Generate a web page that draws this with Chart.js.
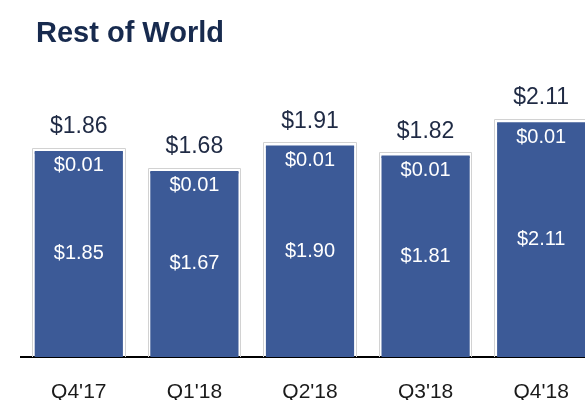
<!DOCTYPE html>
<html>
<head>
<meta charset="utf-8">
<script src="https://cdn.jsdelivr.net/npm/chart.js@4.4.1/dist/chart.umd.min.js"></script>
<style>
  html, body { margin:0; padding:0; background:#fff; overflow:hidden; width:585px; height:400px; }
  #title { position:absolute; left:36px; top:18px; font-family:"Liberation Sans", Arial, sans-serif; font-weight:bold; font-size:29px; line-height:29px; color:#172a4e; white-space:nowrap; }
  #wrap { position:absolute; left:0; top:0; width:599px; height:400px; }
</style>
</head>
<body>
<div id="wrap"><canvas id="c" width="599" height="400"></canvas></div>
<div id="title">Rest of World</div>
<script>
const categories = ["Q4'17", "Q1'18", "Q2'18", "Q3'18", "Q4'18"];
const baseValues = [1.85, 1.67, 1.90, 1.81, 2.11];
const topValues = [0.01, 0.01, 0.01, 0.01, 0.01];
const totals = [1.86, 1.68, 1.91, 1.82, 2.11];

const BAR = '#3c5a97';
const FONT = '"Liberation Sans", Arial, sans-serif';

const labelPlugin = {
  id: 'labels',
  beforeDatasetsDraw(chart) {
    const ctx = chart.ctx;
    const m0 = chart.getDatasetMeta(0), m1 = chart.getDatasetMeta(1);
    ctx.save();
    ctx.strokeStyle = '#d2d2d2';
    ctx.lineWidth = 1;
    m0.data.forEach((b, i) => {
      const t = m1.data[i];
      const x0 = Math.round(b.x - b.width / 2 - 3.5) + 0.5;
      const x1 = Math.round(b.x + b.width / 2 + 3.5) - 0.5;
      const y0 = Math.round(t.y - 4) + 0.5;
      const y1 = b.base;
      ctx.beginPath();
      ctx.moveTo(x0, y1); ctx.lineTo(x0, y0); ctx.lineTo(x1, y0); ctx.lineTo(x1, y1);
      ctx.stroke();
    });
    ctx.restore();
  },
  afterDatasetsDraw(chart) {
    const ctx = chart.ctx;
    const m0 = chart.getDatasetMeta(0), m1 = chart.getDatasetMeta(1);
    ctx.save();
    ctx.textAlign = 'center';
    ctx.textBaseline = 'middle';
    m0.data.forEach((b, i) => {
      const t = m1.data[i];
      ctx.fillStyle = '#ffffff';
      ctx.font = '20px ' + FONT;
      ctx.fillText('$' + baseValues[i].toFixed(2), b.x, (b.y + b.base) / 2 - 1);
      ctx.fillText('$' + topValues[i].toFixed(2), t.x, t.y + 14);
      ctx.fillStyle = '#1f2a44';
      ctx.font = '23px ' + FONT;
      ctx.fillText('$' + totals[i].toFixed(2), t.x, t.y - 25);
    });
    ctx.restore();
  }
};

new Chart(document.getElementById('c'), {
  type: 'bar',
  data: {
    labels: categories,
    datasets: [
      { data: baseValues, backgroundColor: BAR, borderWidth: 0, inflateAmount: 0.75, barPercentage: 0.75, categoryPercentage: 1 },
      { data: topValues, backgroundColor: BAR, borderWidth: 0, inflateAmount: 0.75, barPercentage: 0.75, categoryPercentage: 1 }
    ]
  },
  options: {
    responsive: false,
    animation: false,
    layout: { padding: { left: 21, right: 0, top: 26, bottom: 0 } },
    plugins: { legend: { display: false }, tooltip: { enabled: false } },
    scales: {
      x: {
        stacked: true,
        grid: { display: false, drawTicks: false },
        border: { display: true, color: '#000', width: 2 },
        ticks: { color: '#1a1a1a', font: { family: FONT, size: 21 }, padding: 23 },
        afterFit(s) { s.height = 43; }
      },
      y: {
        stacked: true,
        display: false,
        min: 0,
        max: 3.0
      }
    }
  },
  plugins: [labelPlugin]
});
</script>
</body>
</html>
